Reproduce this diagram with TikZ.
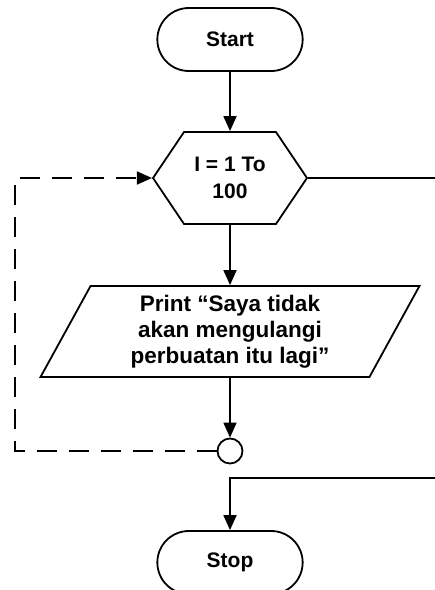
\documentclass[tikz,border=0pt]{standalone}
\usepackage{fontspec}
\setmainfont{Liberation Sans}
\usetikzlibrary{arrows.meta,shapes.misc,shapes.geometric,shapes.symbols}
\tikzset{
  flow/.style={line width=1.8pt,-{Triangle[length=15pt,width=13pt]}},
  terminal/.style={draw,line width=1.8pt,rounded rectangle,minimum width=152pt,
    minimum height=63pt,font=\fontsize{21}{25}\selectfont\bfseries},
  loopbox/.style={draw,line width=1.8pt,signal,signal to=west and east,
    signal pointer angle=112,minimum width=154pt,minimum height=92pt,inner sep=0pt,
    align=center,font=\fontsize{21}{27}\selectfont\bfseries},
  iobox/.style={draw,line width=1.8pt,trapezium,trapezium left angle=64,
    trapezium right angle=116,trapezium stretches=true,minimum width=380pt,
    minimum height=91pt,inner sep=0pt,align=center,
    font=\fontsize{22.5}{26}\selectfont\bfseries},
  joint/.style={draw,line width=1.8pt,circle,minimum size=25pt,inner sep=0pt}
}
\begin{document}
\begin{tikzpicture}[x=1pt,y=-1pt]
\useasboundingbox (0,0) rectangle (435,590);

\node[terminal] (start) at (230,39.5) {Start};
\node[loopbox] (loop) at (230,178) {I = 1 To\\100};
\node[iobox] (print) at (230,331.5) {Print “Saya tidak\\akan mengulangi\\perbuatan itu lagi”};
\node[joint] (join) at (230,451) {};
\node[terminal] (stop) at (230,562.5) {Stop};

\coordinate (loopL) at (15,451);
\coordinate (exitR) at (445,178);
\coordinate (backR) at (445,478);

\draw[flow] (start) -- (loop);
\draw[flow] (loop) -- (print);
\draw[flow] (print) -- (join);
\draw[flow,dash pattern=on 20pt off 12pt] (join) -- (loopL) |- (loop.west);
\draw[line width=1.8pt] (loop.east) -- (exitR);
\draw[flow] (backR) -| (stop.north);
\end{tikzpicture}
\end{document}
